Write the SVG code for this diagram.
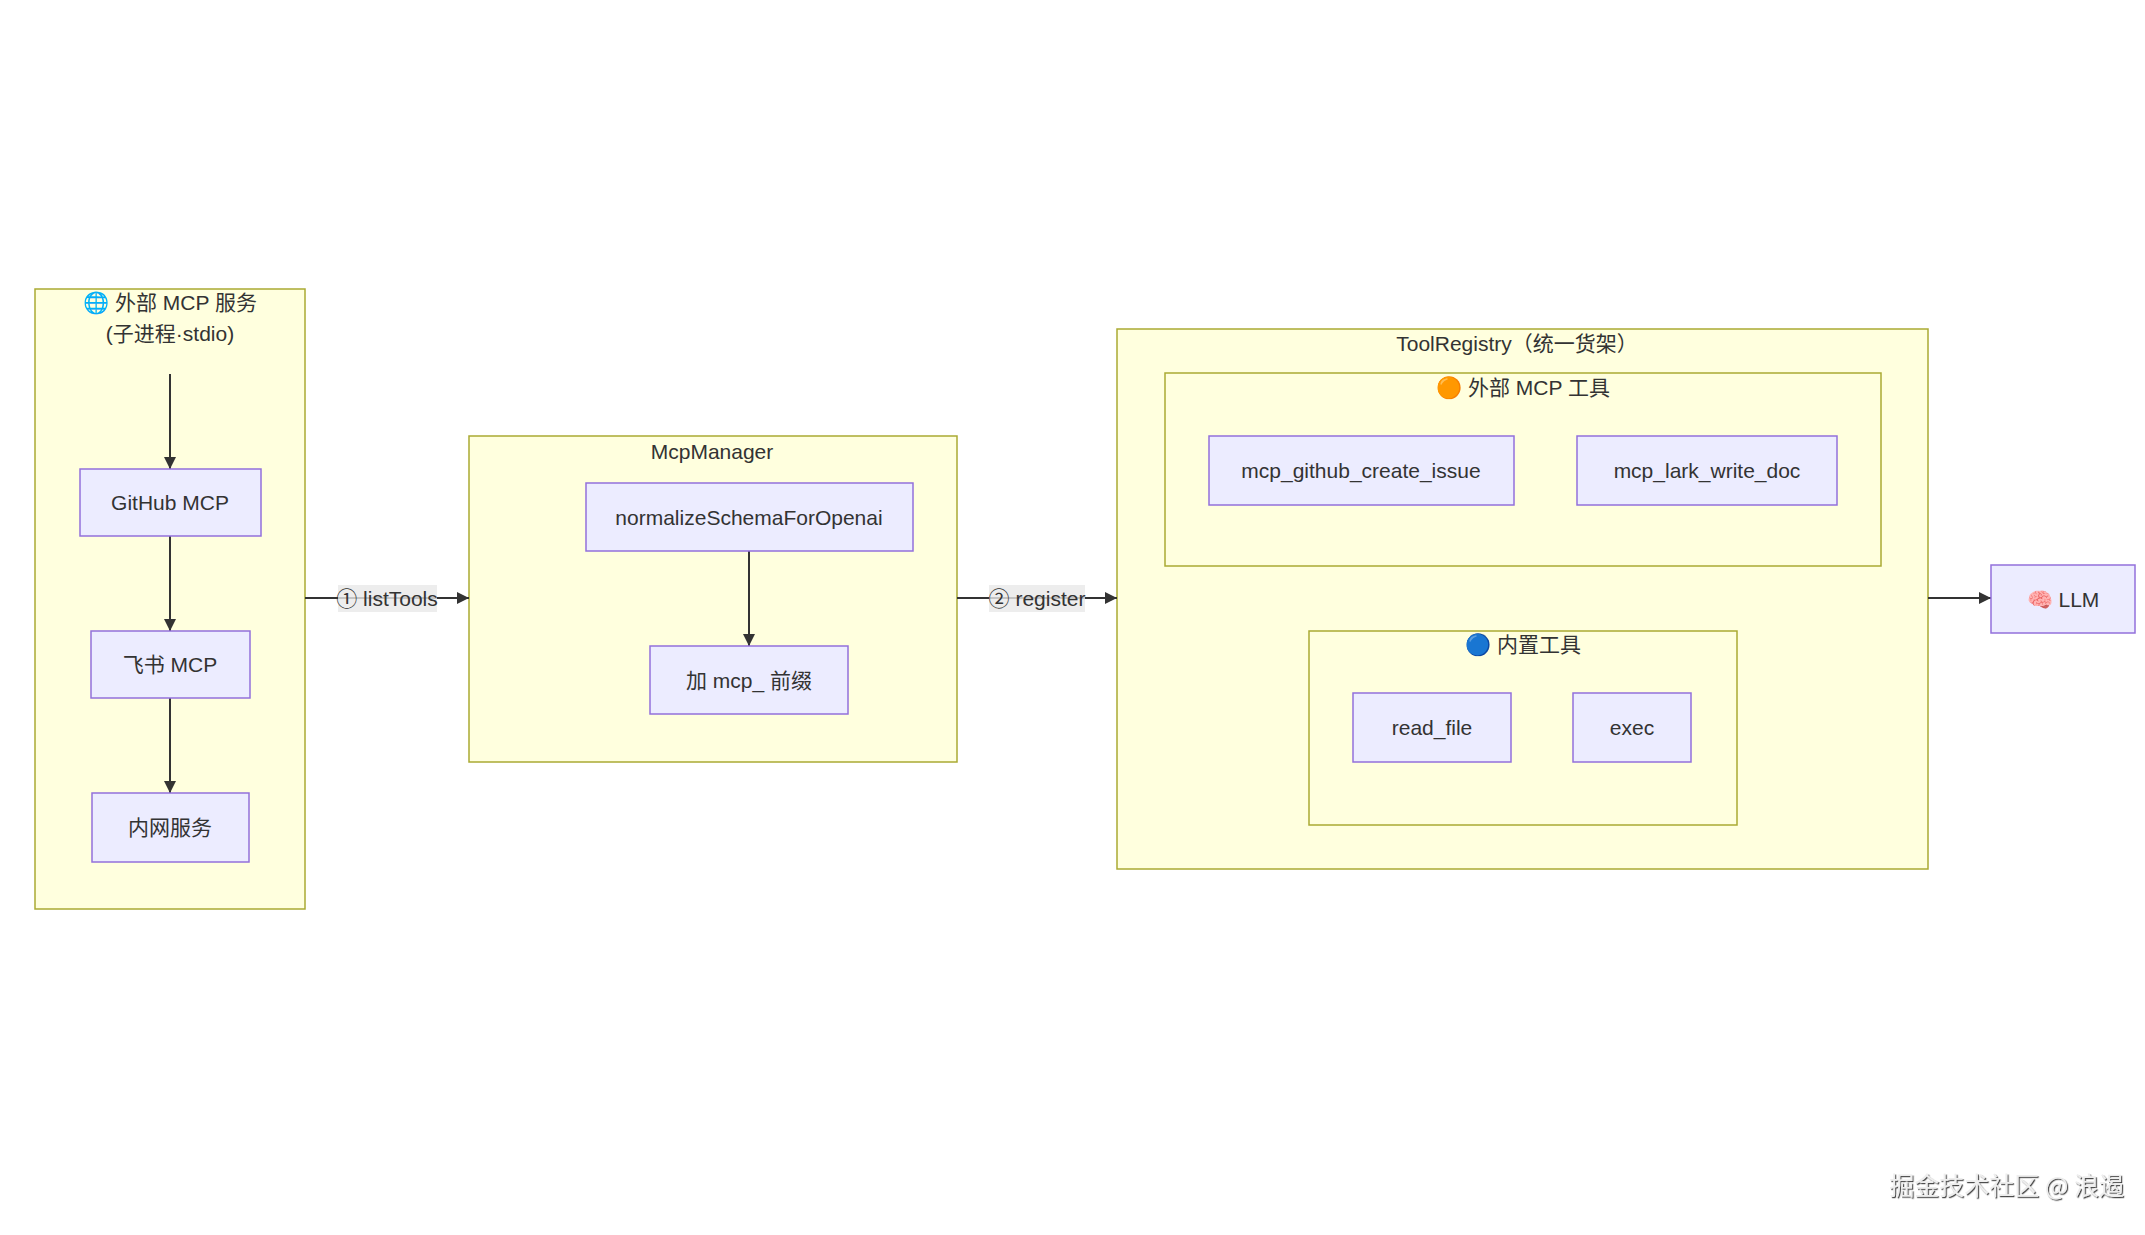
<svg xmlns="http://www.w3.org/2000/svg" width="2145" height="1235" viewBox="0 0 2145 1235">
<defs>
<marker id="arrow" viewBox="0 0 10 10" refX="10" refY="5" markerWidth="12" markerHeight="12" markerUnits="userSpaceOnUse" orient="auto">
<path d="M0,0 L10,5 L0,10 z" fill="#333333"/>
</marker>
<filter id="emboss" x="-5%" y="-20%" width="110%" height="140%">
<feDropShadow dx="1.2" dy="1.2" stdDeviation="0.6" flood-color="#333333" flood-opacity="0.9"/>
</filter>
</defs>
<style>
.cluster{fill:#ffffde;stroke:#aaaa33;stroke-width:1.5}
.node{fill:#ececff;stroke:#9370db;stroke-width:1.5}
.t{font-family:"Liberation Sans","Noto Sans CJK SC",sans-serif;font-size:21px;fill:#333333;text-anchor:middle;dominant-baseline:central}
.edge{fill:none;stroke:#333333;stroke-width:2}
.lbl{fill:#e8e8e8;fill-opacity:0.8}
</style>
<rect width="2145" height="1235" fill="#ffffff"/>

<g id="cluster-external">
<rect class="cluster" x="35" y="289" width="270" height="620"/>
<text class="t" x="170" y="302">🌐 外部 MCP 服务</text>
<text class="t" x="170" y="333">(子进程·stdio)</text>
</g>
<g id="cluster-mcpmanager">
<rect class="cluster" x="469" y="436" width="488" height="326"/>
<text class="t" x="712" y="451">McpManager</text>
</g>
<g id="cluster-toolregistry">
<rect class="cluster" x="1117" y="329" width="811" height="540"/>
<text class="t" x="1517" y="343">ToolRegistry（统一货架）</text>
</g>
<g id="cluster-mcptools">
<rect class="cluster" x="1165" y="373" width="716" height="193"/>
<text class="t" x="1523" y="387">🟠 外部 MCP 工具</text>
</g>
<g id="cluster-builtin">
<rect class="cluster" x="1309" y="631" width="428" height="194"/>
<text class="t" x="1523" y="644">🔵 内置工具</text>
</g>

<g id="connectors">
<path class="edge" d="M170,374 L170,469" marker-end="url(#arrow)"/>
<path class="edge" d="M170,536 L170,631" marker-end="url(#arrow)"/>
<path class="edge" d="M170,698 L170,793" marker-end="url(#arrow)"/>
<path class="edge" d="M749,551 L749,646" marker-end="url(#arrow)"/>
<path class="edge" d="M305,598 L469,598" marker-end="url(#arrow)"/>
<path class="edge" d="M957,598 L1117,598" marker-end="url(#arrow)"/>
<path class="edge" d="M1928,598 L1991,598" marker-end="url(#arrow)"/>
<rect class="lbl" x="338" y="585" width="99" height="27"/>
<text class="t" x="387" y="598">① listTools</text>
<rect class="lbl" x="989" y="585" width="96" height="27"/>
<text class="t" x="1037" y="598">② register</text>
</g>

<g id="node-github">
<rect class="node" x="80" y="469" width="181" height="67"/>
<text class="t" x="170" y="502">GitHub MCP</text>
</g>
<g id="node-feishu">
<rect class="node" x="91" y="631" width="159" height="67"/>
<text class="t" x="170" y="664">飞书 MCP</text>
</g>
<g id="node-intranet">
<rect class="node" x="92" y="793" width="157" height="69"/>
<text class="t" x="170" y="827">内网服务</text>
</g>
<g id="node-normalize">
<rect class="node" x="586" y="483" width="327" height="68"/>
<text class="t" x="749" y="517">normalizeSchemaForOpenai</text>
</g>
<g id="node-prefix">
<rect class="node" x="650" y="646" width="198" height="68"/>
<text class="t" x="749" y="680">加 mcp_ 前缀</text>
</g>
<g id="node-github-issue">
<rect class="node" x="1209" y="436" width="305" height="69"/>
<text class="t" x="1361" y="470">mcp_github_create_issue</text>
</g>
<g id="node-lark-doc">
<rect class="node" x="1577" y="436" width="260" height="69"/>
<text class="t" x="1707" y="470">mcp_lark_write_doc</text>
</g>
<g id="node-readfile">
<rect class="node" x="1353" y="693" width="158" height="69"/>
<text class="t" x="1432" y="727">read_file</text>
</g>
<g id="node-exec">
<rect class="node" x="1573" y="693" width="118" height="69"/>
<text class="t" x="1632" y="727">exec</text>
</g>
<g id="node-llm">
<rect class="node" x="1991" y="565" width="144" height="68"/>
<text class="t" x="2063" y="599">🧠 LLM</text>
</g>

<text x="2124" y="1195" filter="url(#emboss)" style="font-family:'Noto Sans CJK SC','Liberation Sans',sans-serif;font-size:25px;fill:#eeeeee;text-anchor:end">掘金技术社区 @ 浪遏</text>
</svg>
